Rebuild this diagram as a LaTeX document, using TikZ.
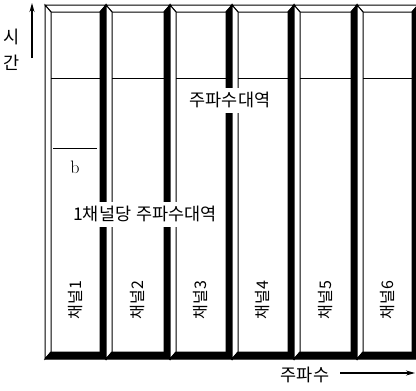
\documentclass[tikz,border=0pt]{standalone}
\usepackage{fontspec}
\newfontfamily\kr{Noto Sans CJK KR}
\usetikzlibrary{arrows.meta}
\begin{document}
\begin{tikzpicture}[x=1pt,y=-1pt, line width=1pt,
  lite/.style={draw=black, fill=white, line join=miter},
  dark/.style={draw=black, fill=black},
  lbl/.style={font=\kr\fontsize{17.5}{17.5}\selectfont, inner sep=1pt},
  chlbl/.style={font=\kr\fontsize{16}{16}\selectfont, rotate=90, inner sep=1pt},
  cover/.style={lbl, fill=white, inner xsep=3pt, minimum height=25pt},
  axarrow/.style={line width=1.2pt, -{Stealth[length=9pt,width=5pt]}}]
\useasboundingbox (0,0) rectangle (416,391);
\fill[white] (0,0) rectangle (416,391);
\foreach \L/\R/\n in {45/106/1, 106/170/2, 170/232/3, 232/294/4, 294/357/5, 357/418/6} {
  \draw[lite] (\L,5) -- (\R,5) -- ({\R-6},12) -- ({\L+6},12) -- cycle;
  \draw[lite] (\L,5) -- ({\L+6},12) -- ({\L+6},352) -- (\L,359) -- cycle;
  \filldraw[dark] (\R,5) -- ({\R-6},12) -- ({\R-6},352) -- (\R,359) -- cycle;
  \filldraw[dark] (\L,359) -- ({\L+6},352) -- ({\R-6},352) -- (\R,359) -- cycle;
  \draw ({\L+6},78) -- ({\R-6},78);
  \node[chlbl] (ch\n) at ({(\L+\R)/2},300) {채널\n};
}
\node[cover] (band) at (230,100) {주파수대역};
\node[cover] (perch) at (145,214) {1채널당\hspace{5pt}주파수대역};
\coordinate (b0) at (53,148);
\coordinate (b1) at (97,148);
\draw (b0) -- (b1);
\node[font=\fontsize{18}{18}\selectfont, inner sep=1pt] (b) at (75,167) {b};
\node[lbl] (si) at (12,37) {시};
\node[lbl] (gan) at (12,63) {간};
\coordinate (t0) at (32,58);
\coordinate (t1) at (32,3);
\draw[axarrow] (t0) -- (t1);
\node[lbl] (freq) at (305,375) {주파수};
\coordinate (f0) at (340,373);
\coordinate (f1) at (415,373);
\draw[axarrow] (f0) -- (f1);
\end{tikzpicture}
\end{document}
